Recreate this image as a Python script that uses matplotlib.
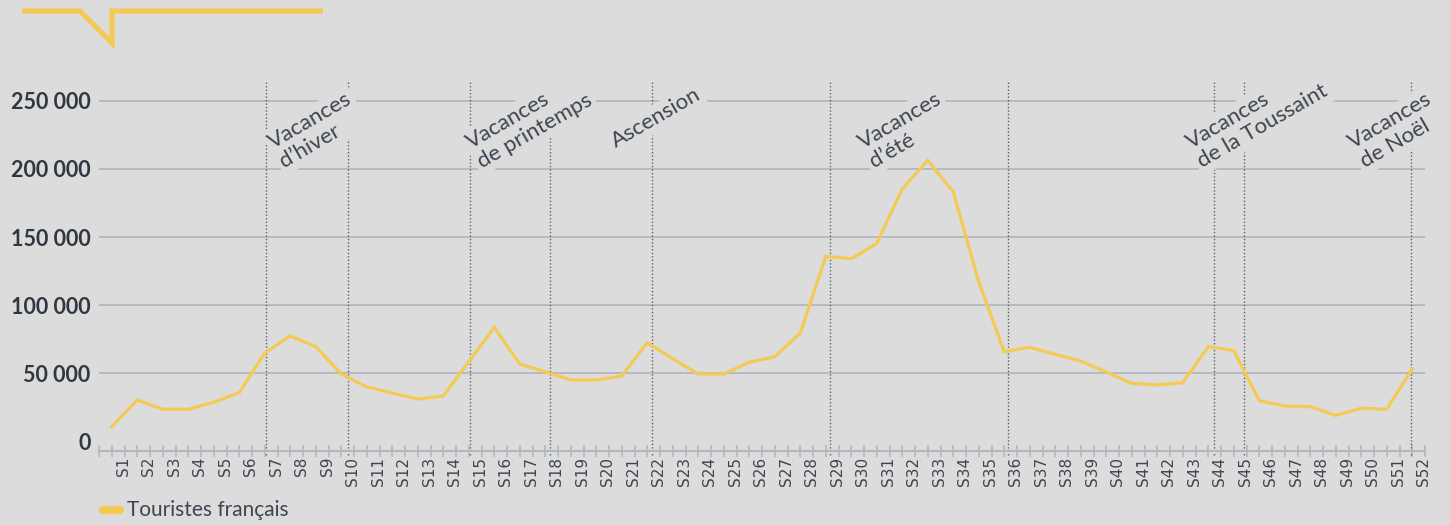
import numpy as np
import matplotlib
matplotlib.use('Agg')
import matplotlib.pyplot as plt
from matplotlib.lines import Line2D

BG_COLOR = '#dcdcdc'        # fond
LINE_COLOR = '#f4ca55'      # courbe jaune
GRID_COLOR = '#b3b8bf'      # grille
TEXT_COLOR = '#3d4550'      # textes
DOT_COLOR = '#5a5f66'       # lignes pointillées

# Données : touristes français par semaine
weeks = ['S%d' % i for i in range(1, 53)]
tourists = [10800, 30400, 23600, 23600, 28700, 35800, 64700, 77400, 69500, 49500,
            40000, 35500, 31100, 33300, 58500, 83800, 56800, 51000, 45100, 45100,
            48000, 72500, 60700, 49500, 49500, 58100, 62200, 79400, 135900, 134100,
            145400, 185300, 206400, 183300, 117000, 65900, 69100, 63900, 59000, 51000,
            42600, 41400, 43100, 69500, 66800, 29900, 26000, 25500, 19100, 24300,
            23600, 53200]
y_ticks = [0, 50000, 100000, 150000, 200000, 250000]

# Limites des périodes de vacances (en semaines, 0 = S1)
holiday_bounds = [6.06, 9.27, 14.05, 17.19, 21.17, 28.16, 35.13, 43.22, 44.41, 50.95]
holiday_labels = ['Vacances\nd\u2019hiver', 'Vacances\nde printemps', 'Ascension',
                  'Vacances\nd\u2019été', 'Vacances\nde la Toussaint', 'Vacances\nde Noël']
label_pos = [(6.85, 197900), (14.59, 197900), (19.84, 212600),
             (29.96, 197900), (42.85, 197900), (49.21, 197900)]

W, H = 1450, 525
fig = plt.figure(figsize=(W / 100, H / 100), dpi=100, facecolor=BG_COLOR)
ax = fig.add_axes([99 / W, (H - 451) / H, 1326 / W, 370 / H], facecolor=BG_COLOR)

x = np.arange(len(weeks))
ax.plot(x, tourists, color=LINE_COLOR, lw=2.3, zorder=3, solid_joinstyle='miter')

ax.set_xlim(-0.5, 51.5)
ax.set_ylim(-7050, 264600)

# grille horizontale
for v in y_ticks[1:]:
    ax.axhline(v, color=GRID_COLOR, lw=1.3, zorder=1)

for s in ['top', 'right', 'left']:
    ax.spines[s].set_visible(False)
ax.spines['bottom'].set_color(GRID_COLOR)
ax.spines['bottom'].set_linewidth(1.5)

ax.set_yticks(y_ticks)
ax.set_yticklabels(['{:,}'.format(v).replace(',', ' ') for v in y_ticks],
                   family=['Lato', 'DejaVu Sans'], fontweight='bold', fontsize=15.5,
                   color='#2f3740')
ax.tick_params(axis='y', length=0, pad=6)
ax.get_yticklabels()[0].set_y(-3000)  # le « 0 » est un peu plus bas

ax.set_xticks(x + 0.45)
ax.set_xticklabels(weeks, rotation=90, family=['Liberation Sans Narrow', 'DejaVu Sans'],
                   fontsize=11, color=TEXT_COLOR)
ax.set_xticks(np.arange(-0.5, 52, 0.5), minor=True)
ax.tick_params(axis='x', which='major', length=0, pad=4)
ax.tick_params(axis='x', which='minor', direction='inout', length=9, width=1.2,
               color=GRID_COLOR)

# lignes pointillées des vacances
ax.vlines(holiday_bounds, -10000, 264600, colors=DOT_COLOR, lw=1,
          linestyles=(0, (1, 1.5)), zorder=2, clip_on=False)

# étiquettes des vacances
for txt, (px, py) in zip(holiday_labels, label_pos):
    ax.text(px, py, txt, rotation=30, rotation_mode='anchor', ha='left', va='bottom',
            multialignment='left', fontsize=16, color=TEXT_COLOR,
            family=['Lato', 'DejaVu Sans'], fontweight='normal', zorder=4,
            linespacing=1.15,
            bbox=dict(boxstyle='square,pad=0.15', fc=BG_COLOR, ec='none'))

# légende
fig.add_artist(Line2D([103 / W, 120 / W], [15 / H, 15 / H], color=LINE_COLOR, lw=6,
                      solid_capstyle='round'))
fig.text(127 / W, 15 / H, 'Touristes français', ha='left', va='center', fontsize=15,
         color=TEXT_COLOR, family=['Lato', 'DejaVu Sans'])

# logo en haut à gauche
lx = np.array([22, 80, 112, 112, 323]) / W
ly = 1 - np.array([11, 11, 43, 11, 11]) / H
fig.add_artist(Line2D(lx, ly, color=LINE_COLOR, lw=3.8, solid_joinstyle='miter',
                      solid_capstyle='butt'))

fig.savefig('out.png', dpi=100, facecolor=BG_COLOR)
